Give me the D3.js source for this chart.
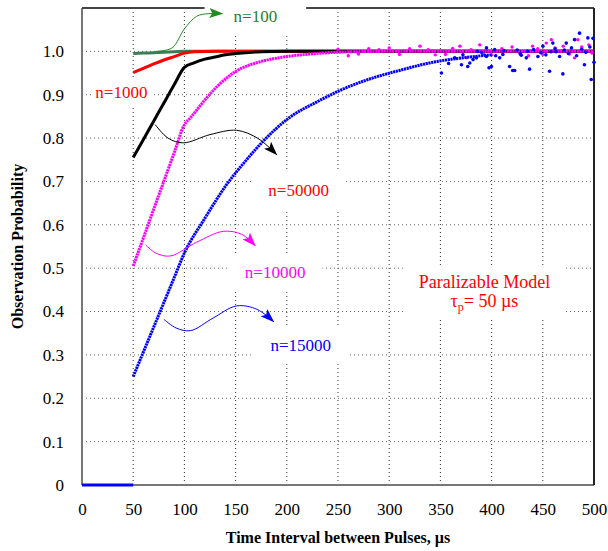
<!doctype html>
<html>
<head>
<script src="https://d3js.org/d3.v7.min.js"></script>
<style>
  body { margin: 0; background: #fff; }
  text { font-family: "Liberation Serif", "Times New Roman", serif; }
</style>
</head>
<body>
<svg width="608" height="551"></svg>
<script>
// data: [time in µs, probability]
var xTicks = [0, 50, 100, 150, 200, 250, 300, 350, 400, 450, 500];
var yTicks = [0, 0.1, 0.2, 0.3, 0.4, 0.5, 0.6, 0.7, 0.8, 0.9, 1.0];

var n100 = [[50,0.995],[60,0.996],[70,0.997],[80,0.998],[90,0.999],[100,1.0],[500,1.0]];
var n1000 = [[50,0.951],[60,0.961],[70,0.971],[80,0.980],[90,0.988],[100,0.996],[110,0.999],[130,1.0],[500,1.0]];
var n50000 = [[50,0.755],[60,0.797],[70,0.839],[80,0.881],[90,0.923],[100,0.963],[110,0.974],[120,0.982],
  [130,0.987],[140,0.992],[150,0.995],[175,0.999],[200,1.0],[500,1.0]];
var n10000 = [[50,0.505],[60,0.570],[70,0.636],[80,0.701],[90,0.766],[100,0.831],[106,0.847],[120,0.888],
  [132,0.919],[151,0.955],[174,0.976],[197,0.987],[229,0.995],[262,0.999],[300,1.0],[500,1.0]];
var n15000 = [[50,0.25],[60,0.307],[70,0.364],[80,0.421],[90,0.478],[100,0.535],[120,0.615],[141,0.692],
  [160,0.748],[177,0.793],[203,0.848],[229,0.883],[252,0.910],[278,0.934],[310,0.956],[343,0.975],
  [375,0.986],[400,0.992]];
var n15000zero = [[0,0],[50,0]];

// scattered points in the noisy tails
var blueTail = [[351,0.950],[358,0.972],[364,0.985],[370.6,0.969],[376.7,0.965],[378.7,0.973],[381.9,0.981],
  [385.2,0.985],[390,0.998],[394.9,0.988],[397.5,0.962],[399.8,0.965],[403,1.004],[407.9,0.985],
  [411,0.993],[417.6,0.965],[420.6,0.956],[422.5,0.956],[425,1.003],[429,0.991],[433.9,0.985],
  [437.1,0.959],[441,1.004],[445.2,0.988],[448,0.997],[450.1,1.012],[453,0.992],[456.6,0.954],
  [459.8,1.019],[463,0.999],[466.4,0.988],[469.6,0.948],[472.9,1.019],[475,0.995],[478,1.008],
  [481,1.027],[483,0.99],[485.9,1.042],[488,1.005],[490.7,0.969],[492,0.998],[494,1.031],
  [496,1.01],[497.3,0.935],[499,1.03],[500,0.975],[462,1.006],[428,0.995],[412,1.002],[404,0.99],
  [386,1.0],[372,0.992],[395,1.008],[435,1.0],[458,0.999],[471,1.003]];
var magentaTail = [[330,1.012],[369,1.012],[375.4,0.985],[388.4,1.015],[453.4,1.019],[458.3,1.027],
  [481,0.985],[484.2,1.027],[300,1.008],[345,0.992],[420,1.01],[436,0.99],[470,1.012],[495,1.015],
  [260,0.99],[280,1.006],[400,0.992],[445,1.006],[250,1.005],[270,0.994],[290,1.004],[310,0.993],
  [320,1.006],[338,1.004],[355,0.993],[362,1.007],[380,1.004],[392,0.994],[410,1.006],[428,0.994],
  [440,1.012],[450,0.993],[462,1.008],[476,0.994],[488,1.01],[498,0.996]];

var svg = d3.select("svg"),
    margin = {top: 8, left: 82, right: 14, bottom: 66},
    width = 608 - margin.left - margin.right,
    height = 551 - margin.top - margin.bottom;

var xScale = d3.scaleLinear().domain([0, 500]).range([0, width]),
    yScale = d3.scaleLinear().domain([0, 1.1]).range([height, 0]);

var g = svg.append("g")
           .attr("transform", "translate(" + margin.left + "," + margin.top + ")");

// dotted grid
g.selectAll(".vgrid").data(xTicks.slice(1, -1)).enter().append("line")
  .attr("x1", function(d) { return xScale(d); }).attr("x2", function(d) { return xScale(d); })
  .attr("y1", 0).attr("y2", height)
  .attr("stroke", "#333").attr("stroke-dasharray", "1,3");
g.selectAll(".hgrid").data(yTicks.slice(1)).enter().append("line")
  .attr("y1", function(d) { return yScale(d); }).attr("y2", function(d) { return yScale(d); })
  .attr("x1", 0).attr("x2", width)
  .attr("stroke", "#666").attr("stroke-dasharray", "1,3");

// axes
var xAxis = g.append("g")
  .attr("transform", "translate(0," + height + ")")
  .call(d3.axisBottom(xScale).tickValues(xTicks).tickSize(0).tickPadding(18));
var yAxis = g.append("g")
  .call(d3.axisLeft(yScale).tickValues(yTicks).tickSize(0).tickPadding(18)
    .tickFormat(function(d) { return d === 0 ? "0" : d3.format(".1f")(d); }));
[xAxis, yAxis].forEach(function(a) {
  a.select(".domain").remove();
  a.selectAll("text").attr("font-size", 17).attr("fill", "#000")
   .attr("font-family", "Liberation Serif");
});

// frame
g.append("line").attr("x1", 0).attr("x2", 0).attr("y1", 0).attr("y2", height)
  .attr("stroke", "#777").attr("stroke-width", 2);
g.append("line").attr("x1", 0).attr("x2", width).attr("y1", height).attr("y2", height)
  .attr("stroke", "#777").attr("stroke-width", 2);
g.append("line").attr("x1", 0).attr("x2", width).attr("y1", 0).attr("y2", 0)
  .attr("stroke", "#444").attr("stroke-width", 2);
g.append("line").attr("x1", width).attr("x2", width).attr("y1", 0).attr("y2", height)
  .attr("stroke", "#222").attr("stroke-width", 2);

var line = d3.line()
  .x(function(d) { return xScale(d[0]); })
  .y(function(d) { return yScale(d[1]); })
  .curve(d3.curveMonotoneX);

function series(data, color, w, dash) {
  var p = g.append("path").datum(data).attr("d", line)
    .attr("fill", "none").attr("stroke", color).attr("stroke-width", w);
  if (dash) p.attr("stroke-dasharray", dash);
}

function dots(data, color, r) {
  g.append("g").selectAll("circle").data(data).enter().append("circle")
    .attr("cx", function(d) { return xScale(d[0]); }).attr("cy", function(d) { return yScale(d[1]); })
    .attr("r", r).attr("fill", color);
}

series(n100, "#3b7d56", 3);
series(n1000, "#ff0000", 3);
series(n50000, "#000000", 3);
series(n10000, "#ff00ff", 3, "2.2,0.6");
dots(magentaTail, "#ff00ff", 1.7);
series(n15000, "#0000ff", 3, "2.2,0.6");
series(n15000zero, "#0000ff", 3);
dots(blueTail, "#0000ff", 1.8);

// labels with white boxes that cut the grid
var labels = [
  {text: "n=100", x: 148, y: 1.068, color: "#1f7f1f", px: 29, top: -8, bottom: 8},
  {text: "n=1000", x: 13, y: 0.893, color: "#ff0000", px: 4, top: 4, bottom: 5},
  {text: "n=50000", x: 182, y: 0.666, color: "#ff0000", px: 15, top: 12, bottom: 10},
  {text: "n=10000", x: 159, y: 0.478, color: "#ff00ff", px: 17, top: 8, bottom: 8},
  {text: "n=15000", x: 184, y: 0.309, color: "#0000ff", px: 17, top: 8, bottom: 8}
];

var defs = svg.append("defs");
["#228b22", "#000000", "#ff00ff", "#0000ff"].forEach(function(c, i) {
  defs.append("marker").attr("id", "ah" + i)
    .attr("viewBox", "0 0 14 10").attr("refX", 13).attr("refY", 5)
    .attr("markerWidth", 14).attr("markerHeight", 10)
    .attr("markerUnits", "userSpaceOnUse").attr("orient", "auto")
    .append("path").attr("d", "M0,0 L14,5 L0,10 L3,5 Z").attr("fill", c);
});

labels.forEach(function(l) {
  var t = g.append("text").attr("x", xScale(l.x)).attr("y", yScale(l.y))
    .attr("font-size", 17).attr("fill", l.color).text(l.text);
  var b = t.node().getBBox();
  var top = l.top < 0 ? -margin.top : b.y - l.top;
  g.insert("rect", function() { return t.node(); })
    .attr("x", b.x - l.px).attr("y", top)
    .attr("width", b.width + 2 * l.px).attr("height", b.y + b.height + l.bottom - top)
    .attr("fill", "#fff");
});

// model note
var note = g.append("text").attr("x", xScale(393)).attr("y", yScale(0.455))
  .attr("text-anchor", "middle").attr("font-size", 18).attr("fill", "#ff0000");
note.append("tspan").attr("x", xScale(393)).text("Paralizable Model");
var note2 = note.append("tspan").attr("x", xScale(393)).attr("dy", 19);
note2.append("tspan").text("τ");
note2.append("tspan").attr("font-size", 12).attr("dy", 4).text("p");
note2.append("tspan").attr("dy", -4).text("= 50 µs");
var nb = note.node().getBBox();
g.insert("rect", function() { return note.node(); })
  .attr("x", nb.x - 15).attr("y", nb.y - 6).attr("width", nb.width + 30).attr("height", nb.height + 12)
  .attr("fill", "#fff");

// arrows
var arrows = [
  {pts: [[72,1.0],[88,1.008],[100,1.052],[112,1.081],[124,1.087],[137,1.087]], color: "#228b22", m: 0},
  {pts: [[71.5,0.831],[84,0.800],[99,0.789],[125,0.808],[151,0.818],[172,0.799],[190,0.762]], color: "#000000", m: 1},
  {pts: [[62,0.554],[72,0.535],[86,0.528],[112,0.560],[138,0.585],[156,0.578],[169,0.552]], color: "#ff00ff", m: 2},
  {pts: [[80,0.382],[92,0.362],[106,0.356],[128,0.385],[151,0.413],[171,0.405],[187,0.377]], color: "#0000ff", m: 3}
];
var aline = d3.line()
  .x(function(d) { return xScale(d[0]); })
  .y(function(d) { return yScale(d[1]); })
  .curve(d3.curveCatmullRom);
arrows.forEach(function(a) {
  g.append("path").datum(a.pts).attr("d", aline)
    .attr("fill", "none").attr("stroke", a.color).attr("stroke-width", 1)
    .attr("marker-end", "url(#ah" + a.m + ")");
});

// axis titles
svg.append("text").attr("x", margin.left + width / 2).attr("y", 543)
  .attr("text-anchor", "middle").attr("font-size", 16).attr("font-weight", "bold")
  .text("Time Interval between Pulses, µs");
svg.append("text").attr("transform", "translate(23," + (margin.top + height / 2) + ") rotate(-90)")
  .attr("text-anchor", "middle").attr("font-size", 16).attr("font-weight", "bold")
  .text("Observation Probability");
</script>
</body>
</html>
